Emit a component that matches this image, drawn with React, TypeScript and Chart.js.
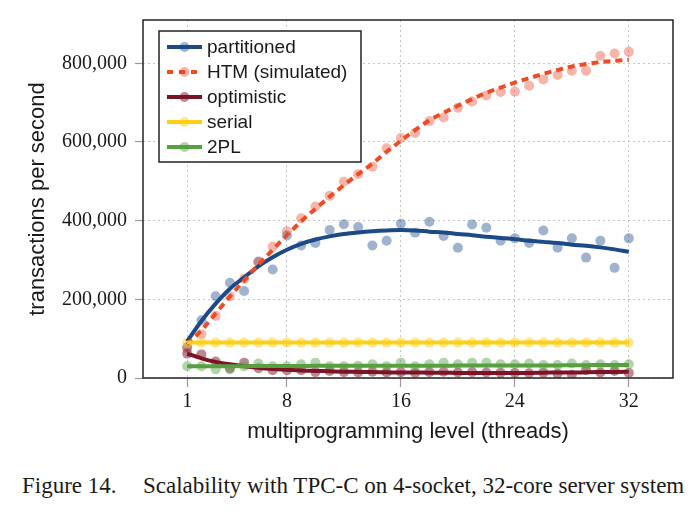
import React, { useEffect, useRef } from "react";
import { Chart, registerables } from "chart.js";

Chart.register(...registerables);

const threads = [1, 2, 3, 4, 5, 6, 7, 8, 9, 10, 11, 12, 13, 14, 15, 16, 17, 18, 19, 20, 21, 22, 23, 24, 25, 26, 27, 28, 29, 30, 31, 32];
const xTickValues = [1, 8, 16, 24, 32];
const yTickValues = [0, 200000, 400000, 600000, 800000];

const partitionedPoints = [79000, 147000, 208000, 242000, 221000, 296000, 276000, 362000, 337000, 343000, 376000, 391000, 384000, 337000, 349000, 392000, 369000, 397000, 361000, 331000, 390000, 382000, 349000, 355000, 343000, 375000, 331000, 355000, 306000, 349000, 280000, 355000];
const partitionedFit = [93000, 145000, 189000, 227000, 256000, 284000, 307000, 326000, 341000, 352000, 360000, 366000, 370000, 373000, 375000, 376000, 375000, 372000, 370000, 366000, 363000, 359000, 356000, 353000, 349000, 346000, 343000, 339000, 336000, 332000, 327000, 321000];

const htmPoints = [75000, 111000, 158000, 208000, 252000, 294000, 334000, 373000, 406000, 436000, 463000, 499000, 518000, 537000, 584000, 610000, 623000, 653000, 662000, 687000, 703000, 718000, 727000, 728000, 743000, 759000, 770000, 781000, 781000, 819000, 825000, 829000];
const htmFit = [85000, 121000, 164000, 207000, 248000, 288000, 326000, 363000, 398000, 430000, 461000, 490000, 518000, 545000, 575000, 603000, 630000, 655000, 674000, 692000, 709000, 725000, 738000, 751000, 762000, 773000, 783000, 792000, 798000, 803000, 806000, 809000];

const optimisticPoints = [62000, 60000, 42000, 25000, 39000, 25000, 20000, 20000, 20000, 15000, 18000, 15000, 14000, 16000, 14000, 15000, 13000, 15000, 16000, 14000, 15000, 14000, 13000, 13000, 12000, 13000, 11000, 8000, 20000, 14000, 18000, 13000];
const optimisticFit = [62000, 50000, 41000, 35000, 30000, 26000, 23000, 21000, 19000, 18000, 17000, 16000, 15500, 15000, 14500, 14000, 14000, 13500, 13500, 13000, 13000, 13000, 13000, 13000, 13000, 13500, 14000, 14000, 14500, 15000, 15500, 16000];

const serialPoints = [90000, 90000, 90000, 90000, 90000, 90000, 90000, 90000, 90000, 90000, 90000, 90000, 90000, 90000, 90000, 90000, 90000, 90000, 90000, 90000, 90000, 90000, 90000, 90000, 90000, 90000, 90000, 90000, 90000, 90000, 90000, 90000];
const serialFit = [90000, 90000, 90000, 90000, 90000, 90000, 90000, 90000, 90000, 90000, 90000, 90000, 90000, 90000, 90000, 90000, 90000, 90000, 90000, 90000, 90000, 90000, 90000, 90000, 90000, 90000, 90000, 90000, 90000, 90000, 90000, 90000];

const twoPLPoints = [30000, 30000, 22000, 22000, 30000, 37000, 30000, 30000, 35000, 39000, 30000, 30000, 31000, 35000, 30000, 39000, 30000, 35000, 39000, 35000, 39000, 39000, 35000, 35000, 37000, 33000, 33000, 37000, 33000, 35000, 33000, 35000];
const twoPLFit = [30000, 30000, 30000, 30000, 30000, 30500, 30500, 30500, 30500, 31000, 31000, 31000, 31000, 31000, 31000, 31000, 31000, 31000, 31000, 31500, 31500, 31500, 31500, 31500, 31500, 32000, 32000, 32500, 32500, 33000, 33000, 33000];

const seriesNames = ["partitioned", "HTM (simulated)", "optimistic", "serial", "2PL"];

const seriesStyles = [
  { line: "#1b4a87", dot: "rgba(26,74,138,0.42)", dash: [] as number[] },
  { line: "#f04a25", dot: "rgba(240,70,40,0.4)", dash: [7, 5] },
  { line: "#7b1526", dot: "rgba(122,20,40,0.5)", dash: [] as number[] },
  { line: "#fdd017", dot: "rgba(252,210,30,0.5)", dash: [] as number[] },
  { line: "#56a040", dot: "rgba(85,160,67,0.45)", dash: [] as number[] },
];

const pointSets = [partitionedPoints, htmPoints, optimisticPoints, serialPoints, twoPLPoints];
const fitSets = [partitionedFit, htmFit, optimisticFit, serialFit, twoPLFit];

const TEXT = "#1a1a1a";

function fmt(v: number): string {
  return String(Math.round(v)).replace(/\B(?=(\d{3})+(?!\d))/g, ",");
}

const framePlugin = {
  id: "frameLegend",
  afterDraw(chart: any) {
    const { ctx, chartArea: a } = chart;
    ctx.save();
    ctx.strokeStyle = "#222";
    ctx.lineWidth = 1.5;
    ctx.setLineDash([]);
    ctx.strokeRect(a.left, a.top, a.right - a.left, a.bottom - a.top);

    const bx = a.left + 16;
    const by = a.top + 11;
    const bw = 202;
    const bh = 131;
    ctx.fillStyle = "#fff";
    ctx.fillRect(bx, by, bw, bh);
    ctx.strokeRect(bx, by, bw, bh);
    seriesNames.forEach((name, i) => {
      const st = seriesStyles[i];
      const y = by + 16 + i * 25;
      ctx.beginPath();
      ctx.setLineDash(st.dash.length ? [6, 6] : []);
      ctx.strokeStyle = st.line;
      ctx.lineWidth = 4;
      ctx.moveTo(bx + 8, y);
      ctx.lineTo(bx + 43, y);
      ctx.stroke();
      ctx.setLineDash([]);
      ctx.beginPath();
      ctx.fillStyle = st.dot;
      ctx.arc(bx + 25.5, y, 5, 0, Math.PI * 2);
      ctx.fill();
      ctx.fillStyle = TEXT;
      ctx.font = '19px "Liberation Sans"';
      ctx.textBaseline = "middle";
      ctx.fillText(name, bx + 48, y + 1);
    });
    ctx.restore();
  },
};

export default function App() {
  const ref = useRef<HTMLCanvasElement>(null);

  useEffect(() => {
    const canvas = ref.current;
    if (!canvas) return;
    const toXY = (ys: number[]) => threads.map((x, i) => ({ x, y: ys[i] }));
    const datasets: any[] = [];
    seriesNames.forEach((name, idx) => {
      const st = seriesStyles[idx];
      datasets.push({
        label: name + " fit",
        data: toXY(fitSets[idx]),
        borderColor: st.line,
        backgroundColor: st.line,
        borderWidth: 4,
        borderDash: st.dash,
        pointRadius: 0,
        cubicInterpolationMode: "monotone",
        fill: false,
        order: 10 - idx,
      });
      datasets.push({
        label: name,
        data: toXY(pointSets[idx]),
        showLine: false,
        pointRadius: 5,
        pointBackgroundColor: st.dot,
        pointBorderWidth: 0,
        pointBorderColor: "rgba(0,0,0,0)",
        order: 20 - idx,
      });
    });

    const gridCommon: any = {
      color: "#c4c4c4",
      lineWidth: 1,
      tickColor: "#999",
      tickBorderDash: [],
      tickWidth: 1.2,
    };

    const chart = new Chart(canvas, {
      type: "line",
      data: { datasets },
      plugins: [framePlugin],
      options: {
        responsive: false,
        animation: false,
        layout: { padding: { top: 18, right: 27, left: 0, bottom: 0 } },
        plugins: { legend: { display: false }, tooltip: { enabled: false } },
        scales: {
          x: {
            type: "linear",
            min: -2.1,
            max: 35.1,
            afterBuildTicks: (scale: any) => {
              scale.ticks = xTickValues.map((v) => ({ value: v }));
            },
            afterFit: (scale: any) => {
              scale.height = 82;
            },
            grid: { ...gridCommon, tickLength: 9 },
            border: { display: false, dash: [2, 3] } as any,
            ticks: {
              color: TEXT,
              font: { family: '"Liberation Serif"', size: 20 },
              padding: 3,
              maxRotation: 0,
              autoSkip: false,
              callback: (v: any) => String(v),
            },
            title: {
              display: true,
              text: "multiprogramming level (threads)",
              color: TEXT,
              font: { family: '"Liberation Sans"', size: 22 },
              padding: { top: 0, bottom: 15 },
            },
          },
          y: {
            min: 0,
            max: 910000,
            afterBuildTicks: (scale: any) => {
              scale.ticks = yTickValues.map((v) => ({ value: v }));
            },
            afterFit: (scale: any) => {
              scale.width = 143;
            },
            grid: { ...gridCommon, tickLength: 8 },
            border: { display: false, dash: [2, 3] } as any,
            ticks: {
              color: TEXT,
              font: { family: '"Liberation Serif"', size: 20 },
              padding: 8,
              autoSkip: false,
              callback: (v: any) => fmt(Number(v)),
            },
            title: {
              display: true,
              text: "transactions per second",
              color: TEXT,
              font: { family: '"Liberation Sans"', size: 22 },
              padding: { top: 25, bottom: 0 },
            },
          },
        },
      },
    });
    return () => chart.destroy();
  }, []);

  const captionStyle: React.CSSProperties = {
    position: "absolute",
    top: 474,
    font: '23px "Liberation Serif"',
    lineHeight: "23px",
    color: TEXT,
    whiteSpace: "nowrap",
  };

  return (
    <div style={{ position: "absolute", left: 0, top: 0, width: 700, height: 511, background: "#fff" }}>
      <canvas ref={ref} width={700} height={460} style={{ display: "block" }} />
      <div style={{ ...captionStyle, left: 22 }}>Figure 14.</div>
      <div style={{ ...captionStyle, left: 143 }}>Scalability with TPC-C on 4-socket, 32-core server system</div>
    </div>
  );
}
